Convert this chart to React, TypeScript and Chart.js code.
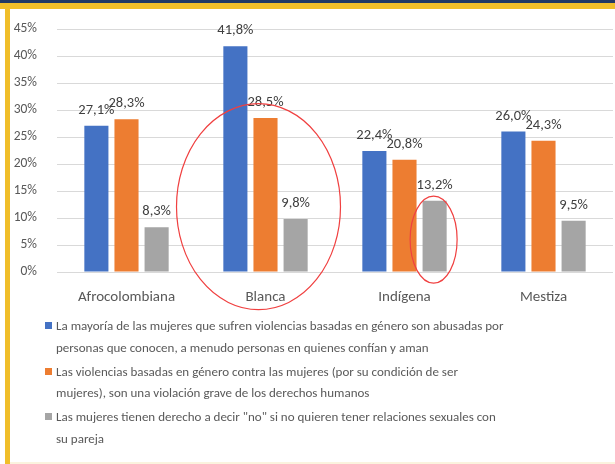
import React, { useEffect, useRef } from "react";
import { Chart, registerables } from "chart.js";

Chart.register(...registerables);

const categories = ["Afrocolombiana", "Blanca", "Indígena", "Mestiza"];
const serieAbusadas = [27.1, 41.8, 22.4, 26.0];
const serieViolacion = [28.3, 28.5, 20.8, 24.3];
const serieDerecho = [8.3, 9.8, 13.2, 9.5];
const seriesColors = ["#4472C4", "#ED7D31", "#A5A5A5"];
const legendLines = [
  [
    "La mayoría de las mujeres que sufren violencias basadas en género son abusadas por",
    "personas que conocen, a menudo personas en quienes confían y aman",
  ],
  [
    "Las violencias basadas en género contra las mujeres (por su condición de ser",
    "mujeres), son una violación grave de los derechos humanos",
  ],
  [
    "Las mujeres tienen derecho a decir \"no\" si no quieren tener relaciones sexuales con",
    "su pareja",
  ],
];
const yMax = 45;
const yStep = 5;

const FONT = "Carlito, 'Liberation Sans', Arial, sans-serif";

const fmt = (v: number) => v.toFixed(1).replace(".", ",") + "%";

const dataLabelPlugin = {
  id: "dataLabels",
  afterDatasetsDraw(chart: any) {
    const ctx = chart.ctx;
    ctx.save();
    ctx.font = `14.5px ${FONT}`;
    ctx.fillStyle = "#404040";
    ctx.textAlign = "center";
    ctx.textBaseline = "alphabetic";
    chart.data.datasets.forEach((ds: any, di: number) => {
      const meta = chart.getDatasetMeta(di);
      meta.data.forEach((bar: any, i: number) => {
        ctx.fillText(fmt(ds.data[i]), bar.x, bar.y - 12);
      });
    });
    ctx.restore();
  },
};

const ellipsePlugin = {
  id: "ellipses",
  afterDraw(chart: any) {
    const ctx = chart.ctx;
    const xs = chart.scales.x;
    const ys = chart.scales.y;
    ctx.save();
    ctx.strokeStyle = "#F04040";
    ctx.lineWidth = 1.2;
    ctx.beginPath();
    ctx.ellipse(xs.getPixelForValue(1) - 7, ys.getPixelForValue(12.1), 82, 103, 0, 0, Math.PI * 2);
    ctx.stroke();
    const grayBar = chart.getDatasetMeta(2).data[2];
    ctx.beginPath();
    ctx.ellipse(grayBar.x - 1, ys.getPixelForValue(6), 23.5, 43.5, 0, 0, Math.PI * 2);
    ctx.stroke();
    ctx.restore();
  },
};

export default function App() {
  const ref = useRef<HTMLCanvasElement | null>(null);
  useEffect(() => {
    if (!ref.current) return;
    const chart = new Chart(ref.current, {
      type: "bar",
      data: {
        labels: categories,
        datasets: [
          { label: legendLines[0].join(" "), data: serieAbusadas, backgroundColor: seriesColors[0] },
          { label: legendLines[1].join(" "), data: serieViolacion, backgroundColor: seriesColors[1] },
          { label: legendLines[2].join(" "), data: serieDerecho, backgroundColor: seriesColors[2] },
        ],
      },
      options: {
        animation: false,
        responsive: false,
        devicePixelRatio: 1,
        layout: { padding: { top: 20, right: 2, bottom: 9, left: 0 } },
        datasets: { bar: { barPercentage: 0.8, categoryPercentage: 0.65 } },
        plugins: { legend: { display: false }, tooltip: { enabled: false } },
        scales: {
          x: {
            grid: { display: false, drawTicks: false },
            border: { display: false },
            ticks: { color: "#595959", font: { family: FONT, size: 15 }, padding: 16 },
          },
          y: {
            min: 0,
            max: yMax,
            grid: { color: "#D9D9D9", drawTicks: false },
            border: { display: false },
            ticks: {
              stepSize: yStep,
              color: "#595959",
              font: { family: FONT, size: 13.5 },
              padding: 20,
              callback: (v: any) => v + "%",
            },
            afterFit: (s: any) => {
              s.width = 47;
              s.paddingTop = 0;
              s.paddingBottom = 0;
            },
          },
        },
      },
      plugins: [dataLabelPlugin, ellipsePlugin],
    });
    return () => chart.destroy();
  }, []);

  return (
    <div
      style={{
        position: "absolute",
        left: 0,
        top: 0,
        width: 615,
        height: 464,
        background: "#FFFFFF",
        overflow: "hidden",
        fontFamily: FONT,
      }}
    >
      <div style={{ position: "absolute", left: 0, top: 0, width: 615, height: 3, background: "#203864" }} />
      <div style={{ position: "absolute", left: 0, top: 3, width: 615, height: 6, background: "#F0BE2A" }} />
      <div style={{ position: "absolute", left: 5, top: 3, width: 5, height: 461, background: "#F0BE2A" }} />
      <div style={{ position: "absolute", left: 10, top: 462, width: 605, height: 2, background: "#FBF3DE" }} />
      <canvas
        ref={ref}
        width={605}
        height={322}
        style={{ position: "absolute", left: 10, top: 9, width: 605, height: 322 }}
      />
      <div style={{ position: "absolute", left: 45, top: 315, color: "#595959", fontSize: 13, lineHeight: "21.5px" }}>
        {legendLines.map((lines, i) => (
          <div key={i} style={{ display: "flex", alignItems: "flex-start", marginBottom: 2.5 }}>
            <div
              style={{
                width: 7,
                height: 7,
                marginTop: 7,
                marginRight: 4,
                background: seriesColors[i],
                flex: "none",
              }}
            />
            <div style={{ whiteSpace: "nowrap" }}>
              {lines.map((l, j) => (
                <div key={j}>{l}</div>
              ))}
            </div>
          </div>
        ))}
      </div>
    </div>
  );
}
